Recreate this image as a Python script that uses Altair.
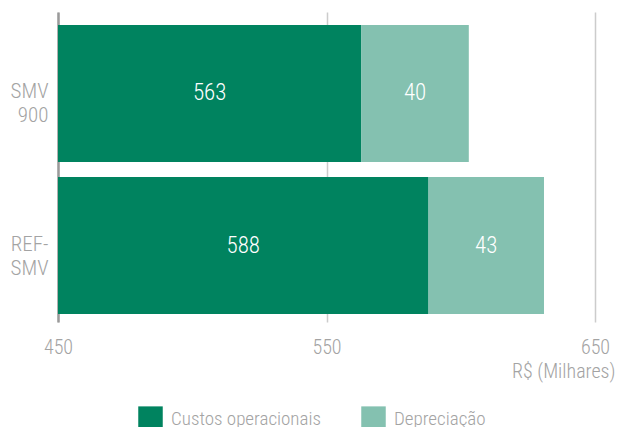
import altair as alt
import pandas as pd

categories = ["SMV\n900", "REF-\nSMV"]
series = ["Custos operacionais", "Depreciação"]
custos = [563, 588]
depreciacao = [40, 43]
x_ticks = [450, 550, 650]
colors = ["#00835F", "#84C1B0"]

rows = []
for i, c in enumerate(categories):
    rows.append({"cat": c, "serie": series[0], "valor": custos[i], "ord": 0})
    rows.append({"cat": c, "serie": series[1], "valor": depreciacao[i], "ord": 1})
df = pd.DataFrame(rows)

FONT = "Roboto Condensed, Liberation Sans Narrow, Roboto, sans-serif"
GRAY = "#A3A3A3"
W = 300
XMIN, XMAX = x_ticks[0], x_ticks[-1]

base = alt.Chart(df).transform_stack(
    stack="valor", groupby=["cat"], sort=[alt.SortField("ord")], as_=["x0", "x1"]
).transform_calculate(
    mid=f"(max(datum.x0, {XMIN}) + datum.x1) / 2"
)

yscale = alt.Scale(paddingInner=0.1, paddingOuter=0.069, align=0.62)

yenc = alt.Y(
    "cat:N",
    sort=categories,
    scale=yscale,
    axis=alt.Axis(
        title=None,
        labelExpr="split(datum.label, '\\n')",
        labelFont=FONT,
        labelFontSize=21,
        labelFontWeight=W,
        labelColor=GRAY,
        labelLineHeight=24,
        labelPadding=10,
        labelOffset=-1,
        labelAlign="right",
        labelBaseline="middle",
        ticks=False,
        grid=False,
        domain=True,
        domainColor="#9A9A9A",
        domainWidth=2.5,
    ),
)

bars = base.mark_bar(clip=True).encode(
    x=alt.X(
        "x0:Q",
        scale=alt.Scale(domain=[XMIN, XMAX], zero=False, nice=False),
        axis=alt.Axis(
            values=x_ticks,
            title="R$ (Milhares)",
            titleFont=FONT,
            titleFontSize=20,
            titleFontWeight=W,
            titleColor=GRAY,
            titleAnchor="end",
            titleAlign="right",
            titleX=557,
            titleY=55,
            titleBaseline="alphabetic",
            labelFont=FONT,
            labelFontSize=20,
            labelFontWeight=W,
            labelColor=GRAY,
            labelPadding=15,
            labelFlush=False,
            ticks=False,
            domain=False,
            grid=True,
            gridColor="#CCCCCC",
            gridWidth=1.5,
        ),
    ),
    x2="x1:Q",
    y=yenc,
    color=alt.Color(
        "serie:N",
        scale=alt.Scale(domain=series, range=colors),
        legend=alt.Legend(
            title=None,
            orient="none",
            legendX=80,
            legendY=394,
            direction="horizontal",
            symbolType="square",
            symbolSize=600,
            symbolStrokeWidth=0,
            symbolOpacity=1,
            labelFont=FONT,
            labelFontSize=19,
            labelFontWeight=W,
            labelColor=GRAY,
            labelOffset=8,
            labelLimit=400,
            columnPadding=40,
        ),
    ),
    order=alt.Order("ord:Q"),
)

labels = base.mark_text(
    color="white", font=FONT, fontSize=23, fontWeight=W, baseline="middle", align="center"
).encode(
    x=alt.X("mid:Q"),
    y=alt.Y("cat:N", sort=categories, scale=yscale),
    text=alt.Text("valor:Q"),
)

chart = (
    alt.layer(bars, labels)
    .properties(
        width=537,
        height=310,
        autosize=alt.AutoSizeParams(type="none"),
        padding={"left": 50, "top": 4, "right": 20, "bottom": 105},
    )
    .configure_view(stroke=None)
)

chart.save("out.html", embed_options={"renderer": "svg", "actions": False})
